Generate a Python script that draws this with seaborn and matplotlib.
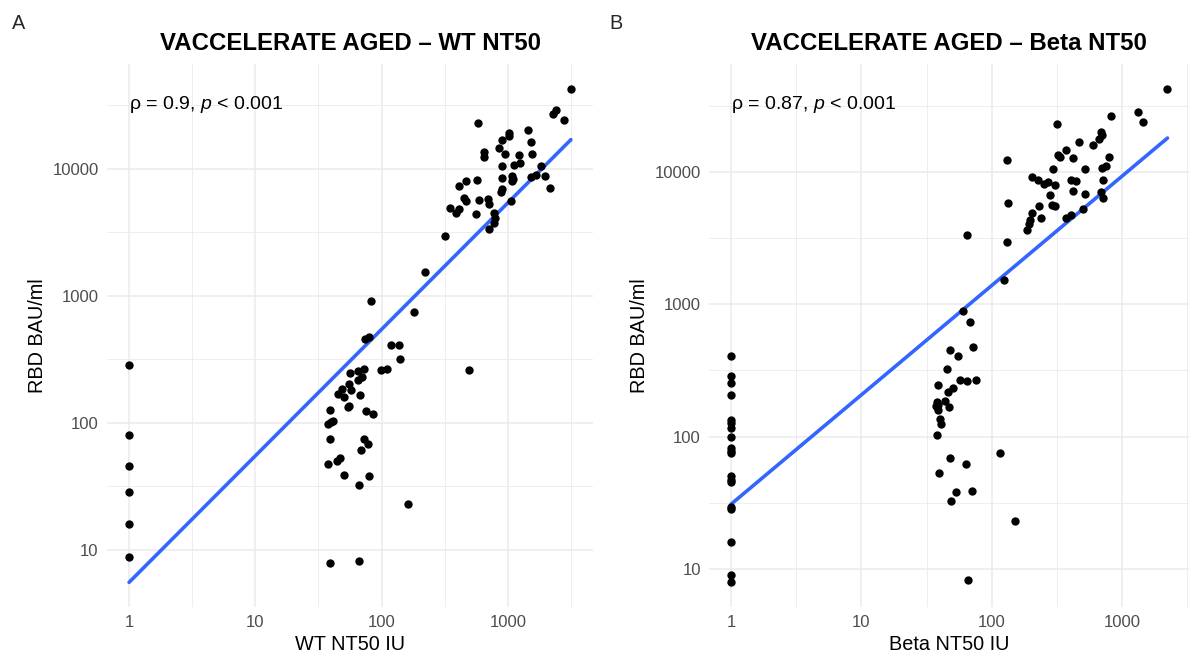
import numpy as np
import pandas as pd
import matplotlib
matplotlib.use("Agg")
import matplotlib.pyplot as plt
from matplotlib.ticker import FixedLocator, FixedFormatter, NullFormatter
import matplotlib.transforms as mtransforms
import seaborn as sns

# ---------------- data ----------------
wt_nt50 = [3155, 582, 2404, 2290, 2766, 1433, 1025, 1011, 897, 1527, 849, 646, 641, 942,
           1559, 1221, 1246, 1114, 891, 1817, 1670, 1537, 1950, 1076, 1107, 1084, 891, 574,
           469, 411, 2163, 891, 879, 449, 462, 594, 698, 713, 1054, 347, 411, 388, 558, 775,
           786, 775, 707, 319, 220, 180, 83, 73.5, 80, 119, 138, 141,
           1, 492, 99.3, 111, 56.4, 64.8, 72, 69.5, 64.8, 55.6, 57.2, 48.3, 44.8, 50.8, 67.1,
           54.4, 55.6, 38.9, 74.6, 85.8, 37.6, 39.7, 41.5, 1, 38.9, 73, 78.3, 69, 1, 37.9,
           44.2, 46.7, 50.8, 80, 1, 66.2, 162, 1, 1, 39.2, 65.8]
rbd_wt = [42500, 22970, 28700, 27000, 24000, 20000, 19050, 18150, 16900, 16100, 14500, 13500,
          12350, 13100, 13100, 12700, 11080, 10750, 10420, 10420, 8870, 8600, 8760, 8810, 8300,
          8000, 8500, 8090, 8000, 7270, 7090, 6890, 6560, 5910, 5570, 5640, 5810, 5310, 5570,
          4940, 4770, 4480, 4370, 4490, 4050, 3700, 3340, 2960, 1540, 745, 902, 454, 477, 407,
          407, 320,
          287, 261, 261, 266, 245, 255, 267, 230, 216, 204, 181, 185, 170, 159, 165, 134, 136,
          127, 124, 117, 97.6, 101, 103, 80, 74.8, 75.3, 68.4, 61.4, 45.7, 47.6, 49.7, 52.5,
          38.8, 38.1, 28.7, 32.4, 22.9, 15.9, 8.87, 7.85, 8.15]

beta_nt50 = [2230, 1336, 1455, 826, 314, 683, 706, 661, 469, 598, 373, 320, 331, 417, 794, 132,
             697, 754, 518, 294, 202, 226, 250, 272, 308, 403, 445, 715, 417, 692, 518, 279,
             719, 134, 232, 290, 308, 501, 202, 238, 409, 370, 196, 192, 187, 64.4, 131, 125,
             59.9, 67.8, 71.9, 47.9, 55, 1,
             45.7, 1, 1, 57.2, 64.8, 75.9, 38.5, 50.8, 46, 1, 44, 37.8, 38.5, 37.3, 39, 47.2,
             40.4, 41.1, 1, 1, 1, 37.8, 1, 1, 1, 1, 116, 47.9, 63.5, 1, 1, 1, 39.5, 53.5, 70.6,
             48.8, 1, 1, 150, 1, 1, 1, 65.2]
rbd_beta = [42800, 28500, 23900, 26700, 23100, 20100, 18950, 17700, 16900, 16100, 14600, 13500,
            13000, 12800, 13070, 12400, 10790, 11040, 10480, 10480, 9170, 8650, 8070, 8400,
            7930, 8800, 8550, 8800, 7260, 7140, 6810, 6730, 6400, 5820, 5560, 5690, 5500, 5270,
            4920, 4510, 4770, 4480, 4360, 4020, 3680, 3330, 2950, 1540, 889, 734, 475, 451,
            406, 404,
            323, 289, 254, 268, 265, 266, 247, 232, 216, 206, 187, 184, 173, 169, 159, 166,
            135, 124, 134, 126, 117, 102, 98.8, 81.6, 78.4, 74.8, 75.4, 69, 61.8, 49.9, 47.1,
            45.2, 52.8, 38.4, 38.8, 32.4, 29.2, 28.4, 22.9, 15.9, 8.9, 7.9, 8.2]

# log10-log10 linear fit lines (intercept at x = 1, slope)
fit_log_intercept = [0.746, 1.489]
fit_log_slope = [0.995, 0.827]

titles = ["VACCELERATE AGED \u2013 WT NT50", "VACCELERATE AGED \u2013 Beta NT50"]
xlabels = ["WT NT50 IU", "Beta NT50 IU"]
ylabel = "RBD BAU/ml"
stats = ["0.9", "0.87"]
panel_letters = ["A", "B"]
major_ticks = [1, 10, 100, 1000, 10000]
major_labels = ["1", "10", "100", "1000", "10000"]

# ---------------- style ----------------
sns.set_theme(style="white")
plt.rcParams["font.family"] = ["Liberation Sans", "DejaVu Sans"]
plt.rcParams["mathtext.fontset"] = "custom"
plt.rcParams["mathtext.rm"] = "Liberation Sans"
plt.rcParams["mathtext.it"] = "Liberation Sans:italic"

W, H = 1190, 659
fig = plt.figure(figsize=(W / 100, H / 100), dpi=100)
axA = fig.add_axes([107 / W, 52 / H, 486 / W, 543 / H])
axB = fig.add_axes([709.3 / W, 52 / H, 480 / W, 543 / H])

datasets = [(wt_nt50, rbd_wt), (beta_nt50, rbd_beta)]
minor_vals = [10 ** (k + 0.5) for k in range(-1, 6)]

for i, (ax, (xv, yv)) in enumerate(zip([axA, axB], datasets)):
    df = pd.DataFrame({"x": xv, "y": yv})
    ax.set_xscale("log")
    ax.set_yscale("log")
    fit = pd.DataFrame({"x": np.geomspace(df["x"].min(), df["x"].max(), 50)})
    fit["y"] = 10 ** (fit_log_intercept[i] + fit_log_slope[i] * np.log10(fit["x"]))
    sns.lineplot(data=fit, x="x", y="y", ax=ax, color="#3366FF", linewidth=2.6, zorder=2)
    sns.scatterplot(data=df, x="x", y="y", ax=ax, color="black", s=36, linewidth=0, zorder=3)

    for sp in ax.spines.values():
        sp.set_visible(False)
    ax.xaxis.set_major_locator(FixedLocator(major_ticks))
    ax.xaxis.set_major_formatter(FixedFormatter(major_labels))
    ax.yaxis.set_major_locator(FixedLocator(major_ticks))
    ax.yaxis.set_major_formatter(FixedFormatter(major_labels))
    ax.xaxis.set_minor_locator(FixedLocator(minor_vals))
    ax.yaxis.set_minor_locator(FixedLocator(minor_vals))
    ax.xaxis.set_minor_formatter(NullFormatter())
    ax.yaxis.set_minor_formatter(NullFormatter())
    ax.grid(which="major", color="#EBEBEB", linewidth=1.1)
    ax.grid(which="minor", color="#EBEBEB", linewidth=0.6)
    ax.set_axisbelow(True)
    ax.tick_params(which="both", length=0, labelsize=12, labelcolor="#4D4D4D", pad=6)

    ax.set_xlabel(xlabels[i], fontsize=14.3, color="black", labelpad=3)
    ax.set_ylabel(ylabel, fontsize=14.3, color="black", labelpad=4)

    trans = mtransforms.blended_transform_factory(ax.transData, ax.transAxes)
    ax.text(1, 0.926, "\u03c1 = " + stats[i] + ", $\\it{p}$ < 0.001", transform=trans,
            ha="left", va="center", fontsize=14, color="black")

    pos = ax.get_position()
    fig.text(pos.x0 + pos.width / 2, 1 - 50 / H, titles[i], ha="center", va="baseline",
             fontsize=17.3, fontweight="bold", color="black")

fig.text(12 / W, 1 - 29 / H, panel_letters[0], ha="left", va="baseline", fontsize=14.3)
fig.text(609 / W, 1 - 29 / H, panel_letters[1], ha="left", va="baseline", fontsize=14.3)

fig.savefig("out.png", dpi=100)
